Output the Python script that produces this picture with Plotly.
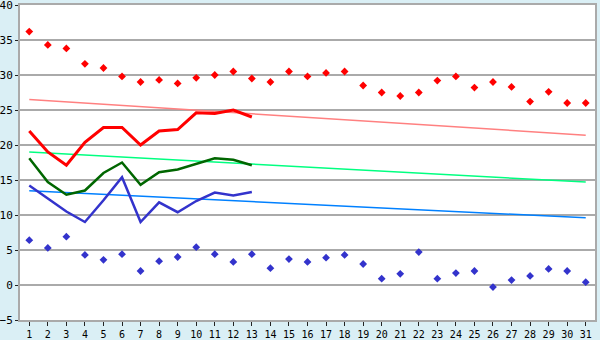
import plotly.graph_objects as go

days = list(range(1, 32))

record_max = [36.2, 34.3, 33.8, 31.6, 31.0, 29.8, 29.0, 29.3, 28.8, 29.6,
              30.0, 30.5, 29.5, 29.0, 30.5, 29.8, 30.3, 30.5, 28.5, 27.5,
              27.0, 27.5, 29.2, 29.8, 28.2, 29.0, 28.3, 26.2, 27.6, 26.0, 26.0]
record_min = [6.4, 5.3, 6.9, 4.3, 3.6, 4.4, 2.0, 3.4, 4.0, 5.4,
              4.4, 3.3, 4.4, 2.4, 3.7, 3.3, 3.9, 4.3, 3.0, 0.9,
              1.6, 4.7, 0.9, 1.7, 2.0, -0.3, 0.7, 1.3, 2.3, 2.0, 0.4]

cur_days = list(range(1, 14))
cur_max = [22.0, 19.0, 17.1, 20.4, 22.5, 22.5, 20.0, 22.0, 22.2, 24.6, 24.5, 25.0, 24.0]
cur_mean = [18.1, 14.7, 12.9, 13.5, 16.0, 17.5, 14.3, 16.1, 16.5, 17.3, 18.1, 17.9, 17.1]
cur_min = [14.2, 12.4, 10.5, 9.0, 12.1, 15.4, 9.0, 11.8, 10.4, 12.0, 13.2, 12.8, 13.3]

trend_days = [1, 31]
trend_max = [26.5, 21.4]
trend_mean = [19.0, 14.7]
trend_min = [13.45, 9.6]

fig = go.Figure()
fig.add_trace(go.Scatter(x=trend_days, y=trend_max, mode="lines",
                         line=dict(color="#ff8080", width=1.5), hoverinfo="skip"))
fig.add_trace(go.Scatter(x=trend_days, y=trend_mean, mode="lines",
                         line=dict(color="#00ff80", width=1.5), hoverinfo="skip"))
fig.add_trace(go.Scatter(x=trend_days, y=trend_min, mode="lines",
                         line=dict(color="#0080ff", width=1.5), hoverinfo="skip"))
fig.add_trace(go.Scatter(x=days, y=record_max, mode="markers",
                         marker=dict(symbol="diamond", size=6, color="#ff0000")))
fig.add_trace(go.Scatter(x=days, y=record_min, mode="markers",
                         marker=dict(symbol="diamond", size=6, color="#3333cc")))
fig.add_trace(go.Scatter(x=cur_days, y=cur_max, mode="lines",
                         line=dict(color="#ff0000", width=3)))
fig.add_trace(go.Scatter(x=cur_days, y=cur_mean, mode="lines",
                         line=dict(color="#006600", width=2.5)))
fig.add_trace(go.Scatter(x=cur_days, y=cur_min, mode="lines",
                         line=dict(color="#3333cc", width=2.5)))

fig.update_layout(
    width=600, height=340,
    margin=dict(l=20, r=5, t=5, b=20),
    paper_bgcolor="#daeff5",
    plot_bgcolor="#ffffff",
    showlegend=False,
    xaxis=dict(range=[0.5, 31.5], tickmode="array", tickvals=days,
               ticktext=[str(d) for d in days], showgrid=False, zeroline=False,
               showline=True, linecolor="#aaaaaa", linewidth=2, mirror=True,
               ticks="outside", ticklen=4, tickcolor="#222222",
               tickfont=dict(family="DejaVu Sans Mono", size=10, color="#000000"),
               ticklabeloverflow="allow", automargin=False),
    yaxis=dict(range=[-5, 40], tickmode="array", tickvals=list(range(-5, 41, 5)),
               showgrid=True, gridcolor="#aaaaaa", gridwidth=1.5, zeroline=False,
               showline=True, linecolor="#aaaaaa", linewidth=2, mirror=True,
               ticks="outside", ticklen=3, tickcolor="#222222",
               tickfont=dict(family="DejaVu Sans Mono", size=11, color="#000000"),
               ticklabeloverflow="allow", automargin=False),
)
fig.write_html("out.html")
